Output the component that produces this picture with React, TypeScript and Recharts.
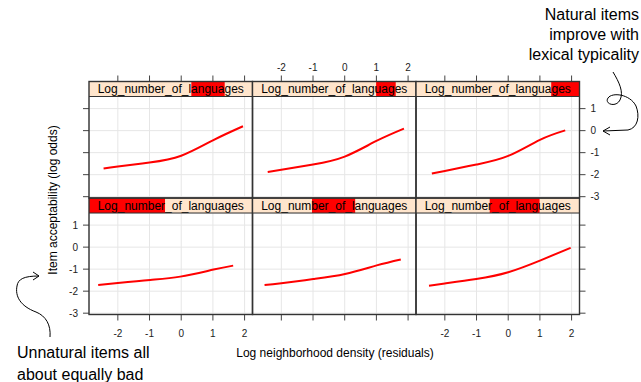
import { LineChart, Line, XAxis, YAxis, CartesianGrid } from "recharts";

const W = 641;
const H = 382;
const FONT = '"Liberation Sans", Arial, Helvetica, sans-serif';

// shingle intervals of Log_number_of_languages (share of its range), levels 1..6
const languageLevels: [number, number][] = [
  [0, 0.465],
  [0.364, 0.628],
  [0.451, 0.756],
  [0.626, 0.83],
  [0.756, 0.876],
  [0.827, 1],
];

const densityTicks = [-2, -1, 0, 1, 2];
const acceptTicks = [-3, -2, -1, 0, 1];
const densityDomain: [number, number] = [-2.91, 2.25];
const acceptDomain: [number, number] = [-3.06, 1.55];

// fitted acceptability (log odds) against neighborhood density, one per level
const fitLevel1 = [
  { x: -2.62, y: -1.72 },
  { x: -2.0, y: -1.63 },
  { x: -0.98, y: -1.49 },
  { x: -0.03, y: -1.34 },
  { x: 1.02, y: -1.02 },
  { x: 1.64, y: -0.84 },
];
const fitLevel2 = [
  { x: -2.53, y: -1.72 },
  { x: -2.0, y: -1.64 },
  { x: -0.99, y: -1.45 },
  { x: 0.01, y: -1.22 },
  { x: 1.01, y: -0.83 },
  { x: 1.77, y: -0.56 },
];
const fitLevel3 = [
  { x: -2.5, y: -1.75 },
  { x: -2.0, y: -1.65 },
  { x: -1.01, y: -1.45 },
  { x: 0.0, y: -1.14 },
  { x: 1.02, y: -0.6 },
  { x: 1.97, y: -0.03 },
];
const fitLevel4 = [
  { x: -2.45, y: -1.72 },
  { x: -2.0, y: -1.63 },
  { x: -1.0, y: -1.45 },
  { x: 0.0, y: -1.14 },
  { x: 1.0, y: -0.44 },
  { x: 1.95, y: 0.2 },
];
const fitLevel5 = [
  { x: -2.43, y: -1.88 },
  { x: -2.0, y: -1.78 },
  { x: -1.0, y: -1.54 },
  { x: 0.0, y: -1.18 },
  { x: 1.0, y: -0.47 },
  { x: 1.87, y: 0.09 },
];
const fitLevel6 = [
  { x: -2.41, y: -1.95 },
  { x: -2.0, y: -1.83 },
  { x: -1.0, y: -1.54 },
  { x: 0.0, y: -1.15 },
  { x: 1.0, y: -0.42 },
  { x: 1.8, y: 0.01 },
];

const fits = [fitLevel1, fitLevel2, fitLevel3, fitLevel4, fitLevel5, fitLevel6];

// panel grid
const COL_X = [89, 252.5, 416];
const PANEL_W = 163.5;
const STRIP_H = 15;
const ROW_PLOT_TOP = [96.5, 213];
const PLOT_H = 101.5;
const Y_AXIS_W = 30;
const X_AXIS_H = 20;
const TICK_LEN = 6;

// lattice order: levels 1-3 on the bottom row, 4-6 on top
const panels = fits.map((data, i) => ({
  data,
  level: languageLevels[i],
  row: i < 3 ? 1 : 0,
  col: i % 3,
}));

function XTick(props: any) {
  const { x, y, payload, side, showLabel } = props;
  const top = side === "top";
  const y0 = top ? y - STRIP_H : y;
  const dir = top ? -1 : 1;
  return (
    <g>
      <line x1={x} x2={x} y1={y0} y2={y0 + dir * TICK_LEN} stroke="#444" strokeWidth={1} />
      {showLabel && (
        <text
          x={x}
          y={top ? y0 - 14.5 : y0 + 18.5}
          textAnchor="middle"
          dominantBaseline="central"
          fontSize={10}
          fontFamily={FONT}
          fill="#222"
        >
          {payload.value}
        </text>
      )}
    </g>
  );
}

function YTick(props: any) {
  const { x, y, payload, side, showLabel } = props;
  const dir = side === "left" ? -1 : 1;
  return (
    <g>
      <line x1={x} x2={x + dir * TICK_LEN} y1={y} y2={y} stroke="#444" strokeWidth={1} />
      {showLabel && (
        <text
          x={x + dir * 11}
          y={y}
          textAnchor={side === "left" ? "end" : "start"}
          dominantBaseline="central"
          fontSize={10}
          fontFamily={FONT}
          fill="#222"
        >
          {payload.value}
        </text>
      )}
    </g>
  );
}

function Panel({ data, row, col }: { data: { x: number; y: number }[]; row: number; col: number }) {
  const xSide = row === 0 ? "top" : "bottom";
  const xLabels = row === 0 ? col === 1 : col !== 1;
  const ySide = col === 0 ? "left" : col === 2 ? "right" : null;
  const yLabels = col === 0 ? row === 1 : row === 0;

  const left = COL_X[col];
  const top = ROW_PLOT_TOP[row];
  const margin = {
    left: left - (ySide === "left" ? Y_AXIS_W : 0),
    right: W - (left + PANEL_W) - (ySide === "right" ? Y_AXIS_W : 0),
    top: top - (xSide === "top" ? X_AXIS_H : 0),
    bottom: H - (top + PLOT_H) - (xSide === "bottom" ? X_AXIS_H : 0),
  };

  return (
    <div style={{ position: "absolute", left: 0, top: 0 }}>
      <LineChart width={W} height={H} data={data} margin={margin}>
        <CartesianGrid stroke="#e6e6e6" strokeWidth={1} />
        <XAxis
          type="number"
          dataKey="x"
          orientation={xSide}
          domain={densityDomain}
          ticks={densityTicks}
          interval={0}
          allowDataOverflow
          height={X_AXIS_H}
          axisLine={false}
          tickLine={false}
          tickSize={0}
          tickMargin={0}
          tick={(p: any) => <XTick {...p} side={xSide} showLabel={xLabels} />}
        />
        <YAxis
          type="number"
          orientation={ySide === "right" ? "right" : "left"}
          hide={ySide === null}
          domain={acceptDomain}
          ticks={acceptTicks}
          interval={0}
          allowDataOverflow
          width={Y_AXIS_W}
          axisLine={false}
          tickLine={false}
          tickSize={0}
          tickMargin={0}
          tick={(p: any) => <YTick {...p} side={ySide} showLabel={yLabels} />}
        />
        <Line
          type="natural"
          dataKey="y"
          stroke="#ff0000"
          strokeWidth={2}
          dot={false}
          isAnimationActive={false}
        />
      </LineChart>
    </div>
  );
}

function Frames() {
  return (
    <svg
      width={W}
      height={H}
      style={{ position: "absolute", left: 0, top: 0, pointerEvents: "none" }}
    >
      {panels.map((p, i) => {
        const x0 = COL_X[p.col];
        const plotTop = ROW_PLOT_TOP[p.row];
        const stripTop = plotTop - STRIP_H;
        const [a, b] = p.level;
        return (
          <g key={i}>
            <rect x={x0} y={stripTop} width={PANEL_W} height={STRIP_H} fill="#ffe5cc" />
            <rect
              x={x0 + a * PANEL_W}
              y={stripTop}
              width={(b - a) * PANEL_W}
              height={STRIP_H}
              fill="#ff0000"
            />
            <text
              x={x0 + PANEL_W / 2}
              y={stripTop + STRIP_H / 2}
              textAnchor="middle"
              dominantBaseline="central"
              fontSize={12}
              fontFamily={FONT}
              fill="#000"
            >
              Log_number_of_languages
            </text>
            <line x1={x0} x2={x0 + PANEL_W} y1={plotTop} y2={plotTop} stroke="#333" strokeWidth={1.2} />
            <rect
              x={x0}
              y={stripTop}
              width={PANEL_W}
              height={STRIP_H + PLOT_H}
              fill="none"
              stroke="#333"
              strokeWidth={1.4}
            />
          </g>
        );
      })}

      <text
        x={335}
        y={353}
        textAnchor="middle"
        dominantBaseline="central"
        fontSize={12}
        fontFamily={FONT}
        fill="#000"
      >
        Log neighborhood density (residuals)
      </text>
      <text
        transform="translate(53, 200) rotate(-90)"
        textAnchor="middle"
        dominantBaseline="central"
        fontSize={12}
        fontFamily={FONT}
        fill="#000"
      >
        Item acceptability (log odds)
      </text>

      <g fontFamily={FONT} fontSize={16} fill="#000" textAnchor="end">
        <text x={639} y={20}>Natural items</text>
        <text x={639} y={40}>improve with</text>
        <text x={639} y={59.5}>lexical typicality</text>
      </g>
      <g fontFamily={FONT} fontSize={16} fill="#000">
        <text x={17} y={358}>Unnatural items all</text>
        <text x={17} y={379.5}>about equally bad</text>
      </g>

      <g fill="none" stroke="#000" strokeWidth={1}>
        <path d="M613,72 C619,82 624,92 620,100 C616,108 604,104 608,98 C612,92 630,94 636,106 C640,116 638,128 628,130 L603,131" />
        <path d="M610,127 L603,131 L610,135" />
        <path d="M50,337 C51,325 46,316 36,312 C20,306 15,296 17,286 C18,279 24,276 39,276" />
        <path d="M33,272 L39,276 L33,280" />
      </g>
    </svg>
  );
}

export default function App() {
  return (
    <div style={{ position: "absolute", left: 0, top: 0, width: W, height: H, background: "#fff" }}>
      {panels.map((p, i) => (
        <Panel key={i} data={p.data} row={p.row} col={p.col} />
      ))}
      <Frames />
    </div>
  );
}
